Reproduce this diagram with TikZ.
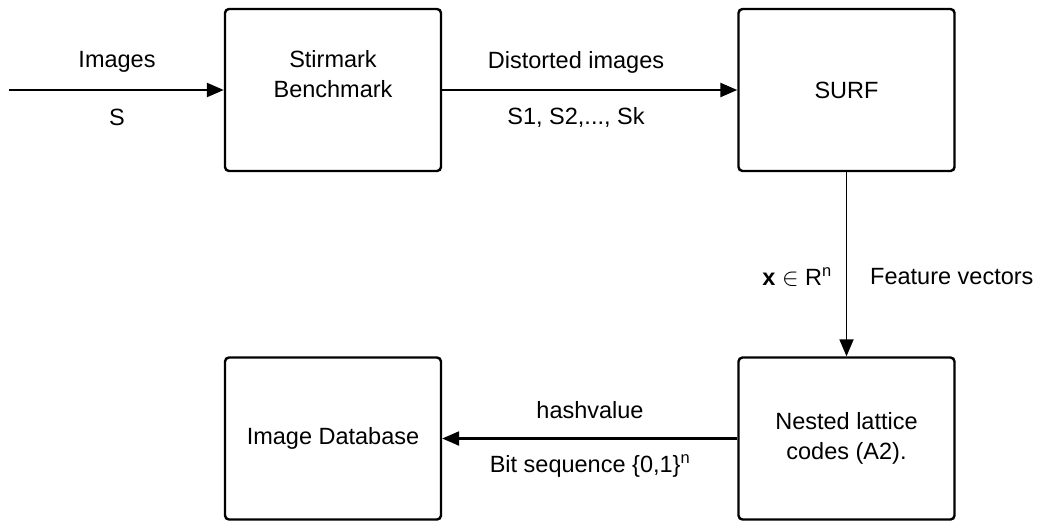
\documentclass[tikz,border=0pt]{standalone}
\usepackage{fontspec}
\setmainfont{Liberation Sans}
\usetikzlibrary{arrows.meta}
\begin{document}
\begin{tikzpicture}[x=1pt,y=-1pt,
  blockbox/.style={draw,line width=2.4pt,rounded corners=4pt,minimum width=216pt,minimum height=162pt,align=center,inner sep=0pt,font=\fontsize{23.5}{30}\selectfont},
  flow/.style={line width=2.4pt,-{Triangle[length=17pt,width=14pt]}},
  thinflow/.style={line width=1.8pt,-{Triangle[length=17pt,width=14pt]}},
  lbl/.style={font=\fontsize{23.5}{26}\selectfont,inner sep=0pt}]
\useasboundingbox (0,0) rectangle (1043,520);
% blocks
\node[blockbox] (stir) at (333,90) {Stirmark\\Benchmark\\[2pt]\phantom{X}};
\node[blockbox] (surf) at (846.5,90) {SURF};
\node[blockbox] (nest) at (846.5,438.5) {Nested lattice\\codes (A2).};
\node[blockbox] (db) at (333,438.5) {Image Database};
\coordinate (in) at (9,90);
% connectors
\draw[flow] (in) -- (stir.west);
\draw[flow] (stir.east) -- (surf.west);
\draw[thinflow] (surf.south) -- (nest.north);
\draw[flow] (nest.west) -- (db.east);
% labels
\node[lbl] (limg) at (117,62) {Images};
\node[lbl] (ls) at (117,117) {S};
\node[lbl] (ldist) at (576,62) {Distorted images};
\node[lbl] (lsk) at (576,117) {S1, S2,..., Sk};
\node[lbl,anchor=east] (lx) at (832,277) {\textbf{x} $\in$ R\textsuperscript{n}};
\node[lbl,anchor=west] (lfeat) at (870,277) {Feature vectors};
\node[lbl] (lhash) at (590,410) {hashvalue};
\node[lbl] (lbit) at (590,466) {Bit sequence \{0,1\}\textsuperscript{n}};
\end{tikzpicture}
\end{document}
